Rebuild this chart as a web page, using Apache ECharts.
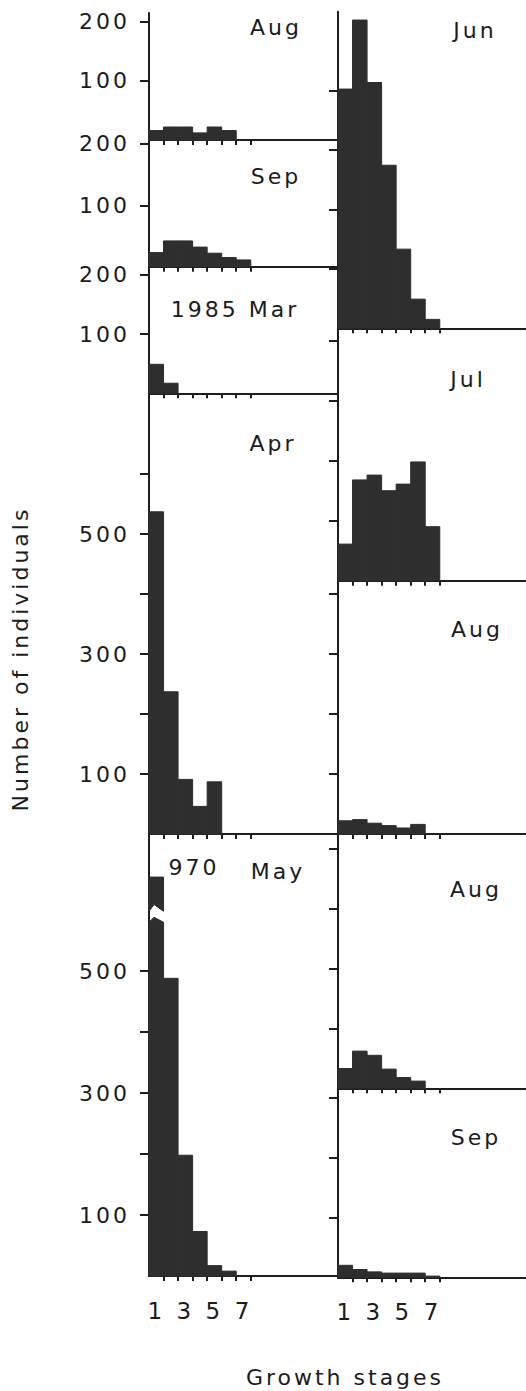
<!DOCTYPE html>
<html>
<head>
<meta charset="utf-8">
<script src="https://cdn.jsdelivr.net/npm/echarts@6/dist/echarts.min.js"></script>
<style>
html, body { margin: 0; padding: 0; background: #ffffff; }
#chart { width: 526px; height: 1391px; }
#chart text { letter-spacing: 3px; }
</style>
</head>
<body>
<div id="chart"></div>
<script>
// ---------------- data ----------------
const stages = [1, 2, 3, 4, 5, 6, 7];
const stageLabels = [1, 3, 5, 7];

const leftNames = ['Aug', 'Sep', '1985 Mar', 'Apr', 'May'];
const rightNames = ['Jun', 'Jul', 'Aug', 'Aug', 'Sep'];

const leftAug = [16, 22, 22, 12, 22, 16, 0];
const leftSep = [23, 42, 42, 32, 22, 15, 11];
const leftMar = [49, 17, 0, 0, 0, 0, 0];
const leftApr = [537, 237, 91, 46, 87, 0, 0];
const leftMay = [970, 488, 198, 73, 17, 8, 0];

const rightJun = [402, 518, 413, 274, 133, 49, 15];
const rightJul = [61, 168, 176, 150, 161, 198, 90];
const rightAug1 = [22, 24, 18, 14, 10, 16, 0];
const rightAug2 = [33, 62, 55, 32, 18, 12, 0];
const rightSep = [20, 13, 9, 7, 7, 7, 2];

const smallTicks = [100, 200];
const bigLabels = [100, 300, 500];
const aprTicks = [100, 200, 300, 400, 500, 600];
const mayTicks = [100, 200, 300, 400, 500];
const rightTicks4 = [100, 200, 300, 400];
const rightTicks3 = [100, 200, 300];

const yTitle = 'Number of individuals';
const xTitle = 'Growth stages';

// ---------------- style / layout ----------------
const font = '"DejaVu Sans", "Liberation Sans", sans-serif';
const textColor = '#1c1c1c';
const lineColor = '#1e1e1e';
const barColor = '#2e2e2e';
const leftX = 149, rightX = 338, colW = 189;
const labelSize = 22;

// display-only shape of the broken May bar (data units)
const mayBreak = { lowCorner: 580, lowPeak: 588, highCorner: 598, highNotch: 609, top: 654, labelX: 3.6, labelY: 669 };

const panels = [
  { name: leftNames[0], values: leftAug, left: leftX, top: 13, bottom: 140, max: 215, ticks: smallTicks, labels: smallTicks, pos: [276, 27] },
  { name: leftNames[1], values: leftSep, left: leftX, top: 140, bottom: 266.7, max: 206.5, ticks: smallTicks, labels: smallTicks, pos: [276, 176] },
  { name: leftNames[2], values: leftMar, left: leftX, top: 266.7, bottom: 393.3, max: 214, ticks: smallTicks, labels: smallTicks, pos: [235, 309] },
  { name: leftNames[3], values: leftApr, left: leftX, top: 393.3, bottom: 834, max: 734.5, ticks: aprTicks, labels: bigLabels, pos: [273, 443] },
  { name: leftNames[4], values: leftMay, left: leftX, top: 834, bottom: 1276, max: 724.6, ticks: mayTicks, labels: bigLabels, pos: [278, 871], showX: true, brk: mayBreak },
  { name: rightNames[0], values: rightJun, left: rightX, top: 11.7, bottom: 328.3, max: 532, ticks: rightTicks4, pos: [475, 30] },
  { name: rightNames[1], values: rightJul, left: rightX, top: 328.3, bottom: 580.7, max: 420.7, ticks: rightTicks4, pos: [468, 379] },
  { name: rightNames[2], values: rightAug1, left: rightX, top: 580.7, bottom: 834, max: 422, ticks: rightTicks4, pos: [477, 629] },
  { name: rightNames[3], values: rightAug2, left: rightX, top: 834, bottom: 1088.3, max: 424, ticks: rightTicks4, pos: [476, 889] },
  { name: rightNames[4], values: rightSep, left: rightX, top: 1088.3, bottom: 1277.3, max: 315, ticks: rightTicks3, pos: [476, 1137], showX: true }
];

const barStyle = { fill: barColor, stroke: barColor, lineWidth: 1 };

function makeRender(panel) {
  return function (params, api) {
    const x = api.value(0), v = api.value(1);
    if (!(v > 0)) return null;
    const a = api.coord([x - 0.5, 0]);
    const x1 = api.coord([x + 0.5, 0])[0];
    if (panel.brk && v > panel.max) {
      const b = panel.brk;
      const x0 = a[0];
      const xm = x0 + (x1 - x0) * 0.35;
      const Y = function (val) { return api.coord([x, val])[1]; };
      return {
        type: 'group',
        children: [
          { type: 'polygon', shape: { points: [[x0, a[1]], [x1, a[1]], [x1, Y(b.lowCorner)], [xm, Y(b.lowPeak)], [x0, Y(b.lowCorner)]] }, style: barStyle },
          { type: 'polygon', shape: { points: [[x0, Y(b.top)], [x1, Y(b.top)], [x1, Y(b.highCorner)], [xm, Y(b.highNotch)], [x0, Y(b.highCorner)]] }, style: barStyle },
          { type: 'text', x: api.coord([b.labelX, 0])[0], y: Y(b.labelY), style: { text: String(v), fontSize: labelSize, fontFamily: font, fill: textColor, align: 'center', verticalAlign: 'middle' } }
        ]
      };
    }
    const c = api.coord([x + 0.5, v]);
    return { type: 'rect', shape: { x: a[0], y: c[1], width: x1 - a[0], height: a[1] - c[1] }, style: barStyle };
  };
}

const grids = [], xAxes = [], yAxes = [], series = [], graphics = [];
const lineStyle = { color: lineColor, width: 2 };

panels.forEach(function (p, i) {
  grids.push({ left: p.left, top: p.top, width: colW, height: p.bottom - p.top, containLabel: false, outerBoundsMode: 'none' });
  xAxes.push({
    type: 'value', gridIndex: i, min: 0.5, max: 13.5,
    axisLine: { show: true, onZero: false, lineStyle: lineStyle },
    axisTick: { show: true, customValues: stages.map(function (s) { return s + 0.5; }), length: 5, inside: false, lineStyle: lineStyle },
    axisLabel: { show: !!p.showX, customValues: stageLabels, margin: 23, fontSize: 23, fontFamily: font, color: textColor },
    splitLine: { show: false }
  });
  yAxes.push({
    type: 'value', gridIndex: i, min: 0, max: p.max,
    axisLine: { show: true, onZero: false, lineStyle: lineStyle },
    axisTick: { show: true, customValues: p.ticks, length: 9, inside: false, lineStyle: lineStyle },
    axisLabel: { show: !!p.labels, customValues: p.labels || [], align: 'left', margin: 70, fontSize: labelSize, fontFamily: font, color: textColor },
    splitLine: { show: false }
  });
  series.push({
    type: 'custom', xAxisIndex: i, yAxisIndex: i, clip: false, silent: true, z: 3,
    encode: { x: 0, y: 1 },
    data: stages.map(function (s, k) { return [s, p.values[k]]; }),
    renderItem: makeRender(p)
  });
  graphics.push({
    type: 'text', x: p.pos[0], y: p.pos[1], silent: true,
    style: { text: p.name, fontSize: labelSize, fontFamily: font, fill: textColor, align: 'center', verticalAlign: 'middle' }
  });
});

graphics.push({
  type: 'text', x: 20, y: 659, rotation: Math.PI / 2, silent: true,
  style: { text: yTitle, fontSize: labelSize, fontFamily: font, fill: textColor, align: 'center', verticalAlign: 'middle' }
});
graphics.push({
  type: 'text', x: 345, y: 1377, silent: true,
  style: { text: xTitle, fontSize: labelSize, fontFamily: font, fill: textColor, align: 'center', verticalAlign: 'middle' }
});

const chart = echarts.init(document.getElementById('chart'), null, { renderer: 'svg' });
chart.setOption({
  animation: false,
  backgroundColor: '#ffffff',
  grid: grids,
  xAxis: xAxes,
  yAxis: yAxes,
  series: series,
  graphic: graphics
});
</script>
</body>
</html>
